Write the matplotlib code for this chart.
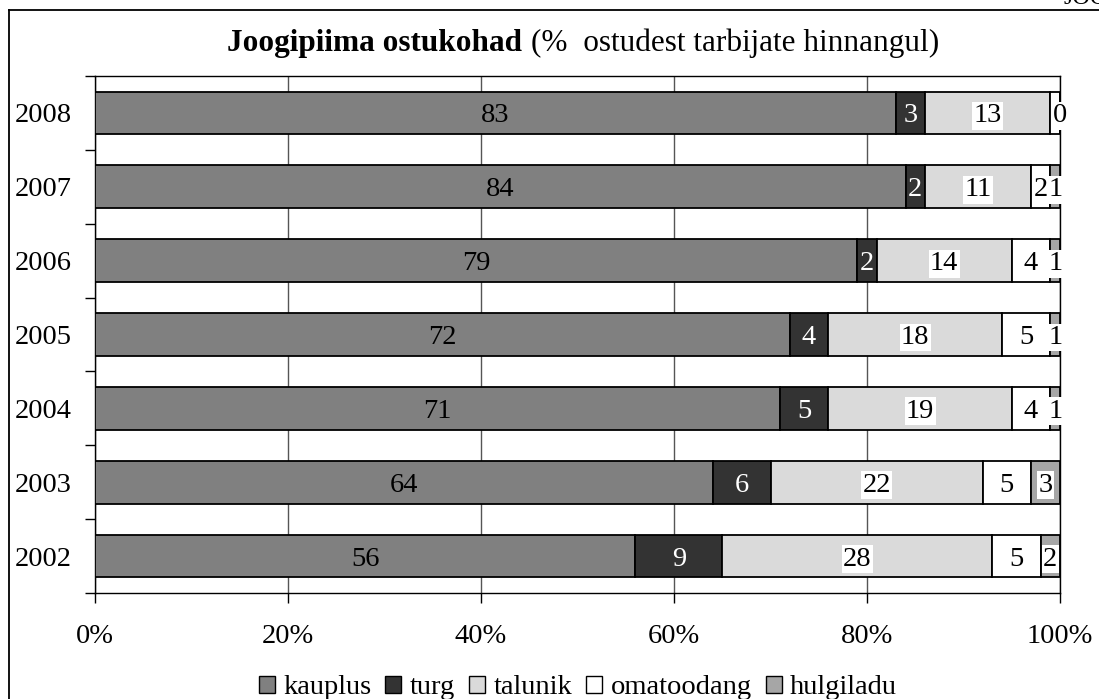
import matplotlib
matplotlib.use("Agg")
import matplotlib.pyplot as plt
from matplotlib.patches import Patch
from matplotlib.lines import Line2D
from matplotlib.ticker import FixedLocator, PercentFormatter

plt.rcParams['font.family'] = ['Liberation Serif', 'DejaVu Serif']

years = ["2002", "2003", "2004", "2005", "2006", "2007", "2008"]
series_names = ["kauplus", "turg", "talunik", "omatoodang", "hulgiladu"]
kauplus = [56, 64, 71, 72, 79, 84, 83]
turg = [9, 6, 5, 4, 2, 2, 3]
talunik = [28, 22, 19, 18, 14, 11, 13]
omatoodang = [5, 5, 4, 5, 4, 2, 1]
hulgiladu = [2, 3, 1, 1, 1, 1, 0]
x_ticks = [0, 20, 40, 60, 80, 100]
# labels that sit under a neighbouring label and are left out
hidden_labels = {("omatoodang", "2008")}

series = [kauplus, turg, talunik, omatoodang, hulgiladu]
colors = ["#808080", "#333333", "#dadada", "#ffffff", "#a6a6a6"]
text_colors = ["black", "white", "black", "black", "black"]
boxed = [False, False, True, True, True]

W, H = 1099, 699
fig = plt.figure(figsize=(W / 100, H / 100), dpi=100)
ax = fig.add_axes([95 / W, 1 - 593 / H, (1060 - 95) / W, (593 - 76) / H])

ypos = list(range(len(years)))
left = [0] * len(years)
for name, vals, col, tcol, box in zip(series_names, series, colors, text_colors, boxed):
    ax.barh(ypos, vals, left=left, height=0.58, color=col, edgecolor="black",
            linewidth=1.3, label=name, zorder=3)
    for yr, y, v, l in zip(years, ypos, vals, left):
        if (name, yr) in hidden_labels:
            continue
        kw = dict(ha="center", va="center_baseline", fontsize=20.5, color=tcol, zorder=5)
        if box:
            kw["bbox"] = dict(boxstyle="square,pad=0.05", fc="white", ec="none")
        ax.text(l + v / 2, y, str(v), **kw)
    left = [a + b for a, b in zip(left, vals)]

ax.set_xlim(0, 100)
ax.set_ylim(-0.5, len(years) - 0.5)
ax.xaxis.set_major_locator(FixedLocator(x_ticks))
ax.xaxis.set_major_formatter(PercentFormatter(decimals=0))
ax.set_yticks(ypos)
ax.set_yticklabels(years, va="center_baseline")
ax.yaxis.set_minor_locator(FixedLocator([i - 0.5 for i in range(len(years) + 1)]))
ax.tick_params(axis="y", which="major", length=0, pad=16.5, labelsize=20.5)
ax.tick_params(axis="y", which="minor", length=7.5, width=1, color="black")
ax.tick_params(axis="x", which="major", length=7, width=1, pad=15, labelsize=20.5)
ax.grid(axis="x", color="#555555", linewidth=1, zorder=0)
for s in ax.spines.values():
    s.set_color("black")
    s.set_linewidth(1)

# title: bold lead-in followed by regular text
fig.text(522 / W, 1 - 43 / H, "Joogipiima ostukohad", ha="right", va="center",
         fontsize=22.5, fontweight="bold")
fig.text(531 / W, 1 - 43 / H, "(%  ostudest tarbijate hinnangul)", ha="left",
         va="center", fontsize=22.5)

handles = [Patch(facecolor=c, edgecolor="black", linewidth=1) for c in colors]
fig.legend(handles, series_names, loc="center", bbox_to_anchor=(578 / W, 1 - 688 / H),
           ncol=5, frameon=False, fontsize=20.5, handlelength=0.55, handleheight=0.55,
           handletextpad=0.3, columnspacing=0.5, borderpad=0)

# chart frame
fig.add_artist(Line2D([9 / W, 9 / W], [1 - 10 / H, 0], color="black", linewidth=1.3))
fig.add_artist(Line2D([9 / W, 1], [1 - 10 / H, 1 - 10 / H], color="black", linewidth=1.3))
fig.text(1064 / W, 1 - 4 / H, "JOO", ha="left", va="baseline", fontsize=17.5)

fig.savefig("out.png", dpi=100)
